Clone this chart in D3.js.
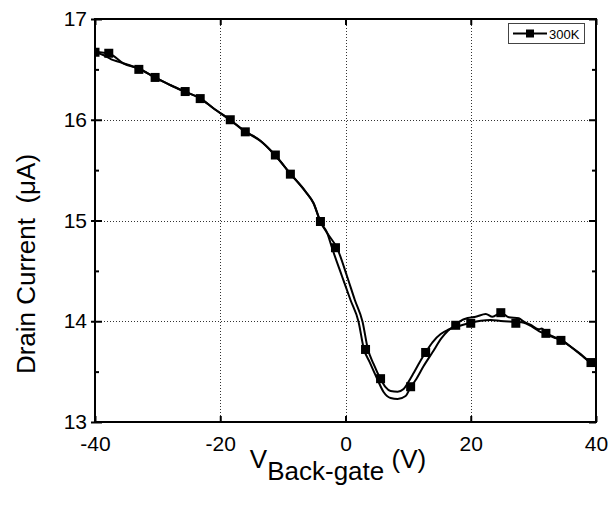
<!DOCTYPE html>
<html><head><meta charset="utf-8">
<script src="https://cdn.jsdelivr.net/npm/d3@7"></script>
<style>body{margin:0;background:#fff}</style></head>
<body><svg id="c" width="610" height="513"></svg>
<script>
const xTicks = [-40, -20, 0, 20, 40];
const yTicks = [13, 14, 15, 16, 17];
const yMinor = [13.5, 14.5, 15.5, 16.5];
const xLabelMain = "V", xLabelSub = "Back-gate", xLabelUnit = " (V)";
const yLabel = "Drain Current  (\u03bcA)";
const legendLabel = "300K";

// Sweep A (inner loop, flat near 20-27 V)
const sweepA = [
  [-40,16.675],[-37.6,16.653],[-35.5,16.56],[-32.8,16.504],[-30.4,16.417],[-28,16.345],
  [-25.6,16.278],[-23.2,16.213],[-21.1,16.114],[-18.4,15.997],[-16,15.881],[-14.1,15.816],
  [-11.2,15.645],[-8.8,15.464],[-6.4,15.286],[-5.1,15.171],[-4,14.988],[-2.9,14.873],
  [-1.33,14.724],[0.27,14.442],[1.49,14.211],[2.72,13.996],[3.57,13.725],[4.48,13.576],
  [5.6,13.427],[6.4,13.347],[7.2,13.308],[8.32,13.301],[9.28,13.328],[9.92,13.384],
  [10.88,13.486],[11.68,13.576],[12.8,13.692],[13.92,13.794],[15.2,13.873],[16.32,13.913],
  [17.6,13.943],[20,13.986],[21.6,14.005],[23.2,14.012],[24.8,14.002],[27.2,13.993],
  [28.48,13.986],[29.6,13.953],[30.88,13.903],[32,13.873],[33.28,13.839],[34.4,13.814],
  [36,13.744],[37.6,13.665],[39.2,13.586],[40,13.556]
];
// Sweep B (outer loop, wavy bump near 25 V)
const sweepB = [
  [-40,16.67],[-38.6,16.64],[-37.4,16.6],[-36.2,16.575],[-32.8,16.5],[-30.4,16.42],[-28,16.345],
  [-25.6,16.278],[-23.2,16.213],[-21.1,16.114],[-18.4,15.997],[-16,15.885],[-14.6,15.83],
  [-13.6,15.79],[-11.2,15.645],[-8.8,15.464],[-6.4,15.29],[-5.1,15.171],[-4,14.988],[-2.9,14.873],
  [-2.13,14.724],[-0.53,14.442],[0.8,14.211],[2.08,13.996],[2.93,13.725],[3.84,13.596],
  [5.07,13.427],[6.08,13.298],[7.2,13.238],[8.32,13.228],[9.6,13.258],[10.4,13.347],
  [11.2,13.417],[12.48,13.556],[13.92,13.695],[15.36,13.834],[16.32,13.903],[17.6,13.963],
  [18.4,14.005],[19.52,14.032],[20.8,14.045],[22.4,14.072],[23.47,14.045],[24.8,14.085],
  [26.08,14.039],[27.68,14.029],[28.48,13.996],[29.6,13.963],[30.88,13.92],[31.36,13.928],
  [32,13.886],[33.28,13.844],[34.4,13.814],[36,13.747],[37.6,13.672],[39.2,13.589],[40,13.561]
];
const markersA = [
  [-37.8,16.66],[-30.4,16.42],[-23.2,16.21],[-16,15.88],[-8.8,15.46],[-1.6,14.73],
  [5.6,13.43],[12.8,13.69],[20,13.98],[27.2,13.98],[34.4,13.81]
];
const markersB = [
  [-40,16.67],[-33,16.50],[-25.6,16.28],[-18.4,16.00],[-11.2,15.65],[-4,14.99],
  [3.2,13.72],[10.4,13.35],[17.6,13.96],[24.8,14.085],[32,13.88],[39.2,13.59]
];

const svg = d3.select("#c");
svg.append("rect").attr("width",610).attr("height",513).attr("fill","#fff");
const L = 95, R = 596, T = 19, B = 422;
const x = d3.scaleLinear().domain([-40,40]).range([L,R]);
const y = d3.scaleLinear().domain([13,17]).range([B,T]);
const font = "Liberation Sans, Arial, sans-serif";
const fmt = d => String(d);

svg.append("defs").append("clipPath").attr("id","pc")
  .append("rect").attr("x",L).attr("y",T).attr("width",R-L).attr("height",B-T);

// grid
const grid = svg.append("g").attr("stroke","#333").attr("stroke-width",1).attr("stroke-dasharray","1,2");
grid.selectAll("line.gx").data(xTicks.slice(1,-1)).enter().append("line")
  .attr("x1",d=>Math.round(x(d))+0.5).attr("x2",d=>Math.round(x(d))+0.5).attr("y1",T).attr("y2",B);
grid.selectAll("line.gy").data(yTicks.slice(1,-1)).enter().append("line")
  .attr("y1",d=>Math.round(y(d))+0.5).attr("y2",d=>Math.round(y(d))+0.5).attr("x1",L).attr("x2",R);

// curves
const line = d3.line().x(d=>x(d[0])).y(d=>y(d[1])).curve(d3.curveMonotoneX);
const g = svg.append("g").attr("clip-path","url(#pc)");
[sweepA, sweepB].forEach(s => g.append("path").attr("d",line(s)).attr("fill","none")
  .attr("stroke","#000").attr("stroke-width",2).attr("stroke-linejoin","round"));
const ms = 9;
g.selectAll("rect.m").data(markersA.concat(markersB)).enter().append("rect")
  .attr("x",d=>x(d[0])-ms/2).attr("y",d=>y(d[1])-ms/2).attr("width",ms).attr("height",ms).attr("fill","#000");

// axes
const axB = d3.axisBottom(x).tickValues(xTicks).tickSize(-6).tickPadding(14).tickFormat(fmt);
const axT = d3.axisTop(x).tickValues(xTicks).tickSize(-6).tickFormat("");
const axL = d3.axisLeft(y).tickValues(yTicks).tickSize(4).tickPadding(4).tickFormat(fmt);
const axLm = d3.axisLeft(y).tickValues(yMinor).tickSize(-4).tickFormat("");
const axLi = d3.axisLeft(y).tickValues(yTicks).tickSize(-7).tickFormat("");
const axR = d3.axisRight(y).tickValues(yTicks).tickSize(-7).tickFormat("");
const axRm = d3.axisRight(y).tickValues(yMinor).tickSize(-4).tickFormat("");
function styleAx(sel){
  sel.select(".domain").remove();
  sel.selectAll("line").attr("stroke","#000").attr("stroke-width",2);
  sel.selectAll("text").attr("font-family",font).attr("font-size",21).attr("fill","#000");
}
svg.append("g").attr("transform",`translate(0,${B})`).call(axB).call(styleAx);
svg.append("g").attr("transform",`translate(0,${T})`).call(axT).call(styleAx);
svg.append("g").attr("transform",`translate(${L},0)`).call(axL).call(styleAx);
svg.append("g").attr("transform",`translate(${L},0)`).call(axLm).call(styleAx);
svg.append("g").attr("transform",`translate(${L},0)`).call(axLi).call(styleAx);
svg.append("g").attr("transform",`translate(${R},0)`).call(axR).call(styleAx);
svg.append("g").attr("transform",`translate(${R},0)`).call(axRm).call(styleAx);
svg.append("rect").attr("x",L).attr("y",T).attr("width",R-L).attr("height",B-T)
  .attr("fill","none").attr("stroke","#000").attr("stroke-width",2);

// axis titles
const xt = svg.append("text").attr("x",338).attr("y",468).attr("text-anchor","middle")
  .attr("font-family",font).attr("font-size",26).attr("fill","#000").style("white-space","pre");
xt.append("tspan").text(xLabelMain);
xt.append("tspan").attr("dy",12).text(xLabelSub);
xt.append("tspan").attr("dy",-12).text(xLabelUnit);
svg.append("text").attr("transform","translate(35,264) rotate(-90)").attr("text-anchor","middle")
  .attr("font-family",font).attr("font-size",26).attr("fill","#000").style("white-space","pre").text(yLabel);

// legend
const lg = svg.append("g");
lg.append("rect").attr("x",508.5).attr("y",23.5).attr("width",76).attr("height",20)
  .attr("fill","#fff").attr("stroke","#444").attr("stroke-width",1);
lg.append("line").attr("x1",513).attr("x2",547).attr("y1",33.5).attr("y2",33.5).attr("stroke","#000").attr("stroke-width",2);
lg.append("rect").attr("x",526).attr("y",29.5).attr("width",8).attr("height",8).attr("fill","#000");
lg.append("text").attr("x",549).attr("y",38.5).attr("font-family",font).attr("font-size",13).attr("fill","#000").text(legendLabel);
</script></body></html>
